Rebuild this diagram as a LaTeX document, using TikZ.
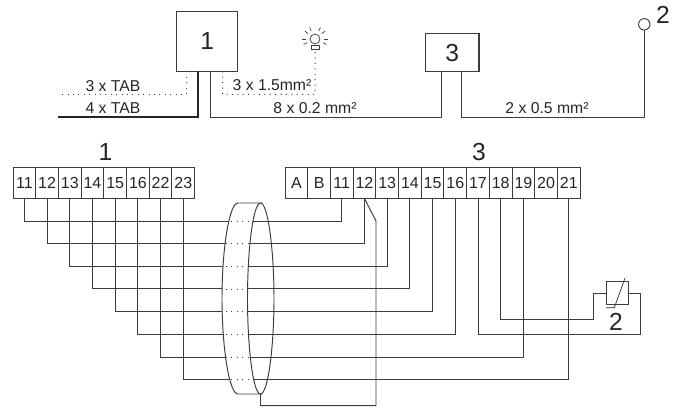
\documentclass[tikz,border=0pt]{standalone}
\usepackage{fontspec}
\setmainfont{Liberation Sans}
\definecolor{ink}{HTML}{252525}
\definecolor{wirec}{HTML}{3C3C3C}
\tikzset{
  x=0.75pt,y=-0.75pt,
  wire/.style={draw=wirec,line width=0.72pt,line join=miter},
  heavy/.style={draw=ink,line width=1.4pt},
  dotline/.style={draw=wirec,line width=0.75pt,dash pattern=on 0.75pt off 3.3pt},
  cell/.style={draw=wirec,line width=0.72pt,minimum width=17pt,minimum height=23pt,inner sep=0pt,outer sep=0pt,text=ink,font=\fontsize{12}{13}\selectfont},
  unitbox/.style={draw=wirec,line width=0.85pt,inner sep=0pt,outer sep=0pt,text=ink,font=\fontsize{18.5}{19}\selectfont},
  bigtext/.style={inner sep=0pt,text=ink,font=\fontsize{18.5}{19}\selectfont},
  captext/.style={inner sep=0pt,text=ink,font=\fontsize{11.8}{12}\selectfont},
}
\begin{document}
\begin{tikzpicture}
\useasboundingbox (0,0) rectangle (683,412);
% ---------- top diagram
\node[unitbox,minimum width=45.7pt,minimum height=45.2pt] (u1) at (207.2,41.2) {1};
\node[unitbox,minimum width=40pt,minimum height=28.5pt] (u3) at (452.3,52.7) {3};
\node[draw=wirec,line width=0.7pt,circle,minimum size=8.6pt,inner sep=0pt,outer sep=0pt] (s2) at (644.3,24.3) {};
\node[bigtext] (s2t) at (663,15) {2};
% lamp
\node[draw=wirec,line width=0.55pt,circle,minimum size=7.4pt,inner sep=0pt,outer sep=0pt] (bulb) at (315,39) {};
\node[draw=wirec,line width=0.55pt,minimum width=6.2pt,minimum height=3.4pt,inner sep=0pt,outer sep=0pt] (base) at (315.2,47.2) {};
\foreach \a in {0,38,65,115,142,180,-25,-155}{
  \draw[draw=wirec,line width=0.5pt] (bulb.center) ++(\a:6.6pt) -- ++(\a:3pt);
}
% junction coordinates
\coordinate (a1) at (186,94.3);
\coordinate (a2) at (62,94.3);
\coordinate (b1) at (198,117);
\coordinate (b2) at (58,117);
\coordinate (c1) at (210.5,117);
\coordinate (d1) at (441.7,117);
\coordinate (e1) at (461.7,117);
\coordinate (f1) at (644.3,117);
\coordinate (g1) at (222.5,94.3);
\coordinate (g2) at (315,94.3);
\draw[dotline] (a1 |- u1.south) -- (a1) -- (a2);
\draw[heavy] (b1 |- u1.south) -- (b1) -- (b2);
\draw[wire] (c1 |- u1.south) -- (c1) -- (d1) -- (d1 |- u3.south);
\draw[wire] (e1 |- u3.south) -- (e1) -- (f1) -- (s2.south);
\draw[dotline] (g1 |- u1.south) -- (g1) -- (g2) -- (base.south);
\node[captext] (l1) at (113,86) {3 x TAB};
\node[captext] (l2) at (113,108) {4 x TAB};
\node[captext] (l3) at (272,85.5) {3 x 1.5mm²};
\node[captext] (l4) at (315,108) {8 x 0.2 mm²};
\node[captext] (l5) at (547,108) {2 x 0.5 mm²};
% ---------- terminal strips
\node[bigtext] (h1) at (105.5,152.5) {1};
\node[bigtext] (h3) at (479,152) {3};
\foreach \n [count=\i from 0] in {11,12,13,14,15,16,22,23}{
  \node[cell] (p\n) at ({24.4+22.7*\i},183.2) {\n};
}
\foreach \n [count=\i from 0] in {A,B,11,12,13,14,15,16,17,18,19,20,21}{
  \node[cell] (q\n) at ({296.4+22.7*\i},183.2) {\n};
}
% ---------- wires
\draw[wire] (p11.south) -- ++(0,22.5) -| (q11.south);
\draw[wire] (p12.south) -- ++(0,44.8) -| (q12.south);
\draw[wire] (p13.south) -- ++(0,67.5) -| (q13.south);
\draw[wire] (p14.south) -- ++(0,90.4) -| (q14.south);
\draw[wire] (p15.south) -- ++(0,113.2) -| (q15.south);
\draw[wire] (p16.south) -- ++(0,135.8) -| (q16.south);
\draw[wire] (p22.south) -- ++(0,158.5) -| (q19.south);
\draw[wire] (p23.south) -- ++(0,181.2) -| (q21.south);
% ---------- cable ring
\def\ringregion{(238,203) .. controls (229,203) and (222,250) .. (222,298.5) .. controls (222,347) and (229,394) .. (238,394) -- (260.5,394) .. controls (253,394) and (247.5,347) .. (247.5,298.5) .. controls (247.5,250) and (253,203) .. (260.5,203) -- cycle}
\fill[white] \ringregion;
\begin{scope}
\clip \ringregion;
\foreach \yy in {221,243.3,266,289,311.7,334.3,357,379.7}{
  \draw[dotline] (226,\yy) -- (256,\yy);
}
\end{scope}
\draw[wire] \ringregion;
\draw[wire] (260.5,203) .. controls (268,203) and (274,250) .. (274,298.5) .. controls (274,347) and (268,394) .. (260.5,394);
% shield branch from terminal 12
\coordinate (k1) at (376,221);
\coordinate (k2) at (376,405.7);
\coordinate (k3) at (260.5,405.7);
\coordinate (k4) at (260.5,394);
\draw[wire] (q12.south) -- (k1) -- (k2) -- (k3) -- (k4);
% ---------- thermistor
\node[draw=wirec,line width=0.72pt,minimum width=17pt,minimum height=17pt,inner sep=0pt,outer sep=0pt] (th) at (617.5,293) {};
\node[bigtext] (th2) at (616,322) {2};
\draw[wire] (q18.south) |- (593.3,319.3) |- (th.west);
\draw[wire] (q17.south) |- (640,334) |- (th.east);
\draw[draw=ink,line width=0.5pt] (625,278) -- (614.3,307.7) -- (606,307.7);
\end{tikzpicture}
\end{document}
